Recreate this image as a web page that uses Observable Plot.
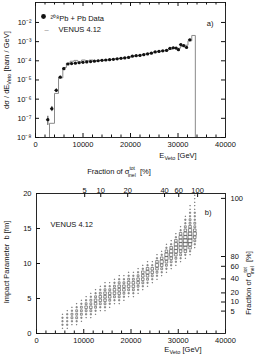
<!DOCTYPE html>
<html><head><meta charset="utf-8">
<script src="https://cdn.jsdelivr.net/npm/d3@7"></script>
<script src="https://cdn.jsdelivr.net/npm/@observablehq/plot@0.6"></script>
<style>
html,body{margin:0;padding:0;background:#fff;}
#c{width:256px;height:361px;overflow:hidden;}
svg{display:block;}
</style></head><body><div id="c"></div>
<script>
// ---------- panel a) : measured data ----------
const dataE = [2600, 3450, 4380, 5220, 5990, 6840, 7600, 8400, 9200, 10000, 10800, 11600, 12400, 13200, 14000, 14800, 15600, 16400, 17200, 18000, 18800, 19600, 20400, 21200, 22000, 22800, 23600, 24400, 25200, 26000, 26800, 27600, 28300, 29000, 29600, 30100, 30600, 31200, 31800, 32500];
const dataV = [8.5e-8, 3.2e-7, 2.9e-6, 1.4e-5, 3.9e-5, 6.8e-5, 7.2e-5, 7.5e-5, 7.9e-5, 8.3e-5, 8.7e-5, 9.1e-5, 9.6e-5, 1.01e-4, 1.06e-4, 1.1e-4, 1.15e-4, 1.2e-4, 1.27e-4, 1.34e-4, 1.42e-4, 1.5e-4, 1.75e-4, 1.85e-4, 1.9e-4, 2.1e-4, 2.3e-4, 2.5e-4, 2.9e-4, 3.1e-4, 3.3e-4, 3.5e-4, 4.4e-4, 4.8e-4, 4.6e-4, 3.8e-4, 7.0e-4, 6.2e-4, 5.0e-4, 1.25e-3];
const dataErr = [0.5, 0.3, 0.2, 0.12, 0.08, 0.06, 0.05, 0.05, 0.05, 0.05, 0.05, 0.05, 0.05, 0.05, 0.05, 0.05, 0.05, 0.05, 0.05, 0.05, 0.05, 0.05, 0.05, 0.05, 0.05, 0.05, 0.05, 0.05, 0.05, 0.05, 0.05, 0.05, 0.06, 0.06, 0.06, 0.07, 0.07, 0.08, 0.08, 0.08];
// ---------- panel a) : VENUS 4.12 histogram ----------
const histEdges = [2950, 4000, 4850, 5750, 6500, 7300, 8100, 8900, 9700, 10500, 11300, 12100, 12900, 13700, 14500, 15300, 16100, 16900, 17700, 18500, 19300, 20100, 20900, 21700, 22500, 23300, 24100, 24900, 25700, 26500, 27300, 28100, 28900, 29700, 30500, 31300, 32100, 32900, 33650];
const histV = [5.5e-8, 2.0e-6, 1.3e-5, 4.5e-5, 7.6e-5, 9.5e-5, 1.05e-4, 9.0e-5, 1.1e-4, 1.0e-4, 1.1e-4, 9.5e-5, 1.05e-4, 1.05e-4, 1.1e-4, 1.15e-4, 1.2e-4, 1.28e-4, 1.35e-4, 1.45e-4, 1.55e-4, 1.7e-4, 1.85e-4, 2.0e-4, 2.2e-4, 2.4e-4, 2.6e-4, 2.9e-4, 3.1e-4, 3.3e-4, 3.6e-4, 4.0e-4, 4.5e-4, 4.5e-4, 5.5e-4, 6.5e-4, 1.1e-3, 2.1e-3];
const xMajor = [0, 10000, 20000, 30000, 40000];
const xMinor = [2000, 4000, 6000, 8000, 12000, 14000, 16000, 18000, 22000, 24000, 26000, 28000, 32000, 34000, 36000, 38000];
const yDecades = [1e-8, 1e-7, 1e-6, 1e-5, 1e-4, 1e-3, 1e-2];

// ---------- panel b) : VENUS impact parameter vs E_Veto (box sizes) ----------
const colE = [5500, 6500, 7500, 8500, 9500, 10500, 11500, 12500, 13500, 14500, 15500, 16500, 17500, 18500, 19500, 20500, 21500, 22500, 23500, 24500, 25500, 26500, 27500, 28500, 29500, 30500, 31500, 32500, 33500];
const colB0 = [0.75, 0.75, 1.25, 1.25, 1.75, 2.25, 2.25, 2.75, 3.25, 3.25, 3.75, 4.25, 4.25, 4.75, 5.25, 5.25, 5.75, 6.25, 6.75, 7.25, 7.75, 8.25, 8.75, 9.25, 9.75, 10.25, 10.75, 11.25, 12.25];
const colCounts = ["12221", "122221", "123321", "1233321", "1233321", "1234321", "12343321", "12344321", "12344321", "123444321", "12344321", "12344321", "123444321", "12344321", "12344321", "12344321", "12344321", "12344421", "12345421", "1234421", "12345421", "12345421", "123455421", "123455421", "1234555421", "12345555421", "1245665543221", "124566554332211", "1234543322211111"];
const bStep = 0.5;
const bTicks = [0, 5, 10, 15, 20];
const fracTopLabels = ["5", "10", "20", "40", "60", "100"];
const fracTopE = [10200, 13600, 19300, 27100, 30100, 34100];
const fracRightLabels = ["100", "80", "60", "40", "20", "10", "5"];
const fracRightB = [19.3, 11.0, 9.6, 7.8, 5.8, 4.5, 3.2];

const FONT = "Liberation Sans, Arial, Helvetica, sans-serif";
const sup = {"-": "⁻", "0": "⁰", "1": "¹", "2": "²", "3": "³", "4": "⁴", "5": "⁵", "6": "⁶", "7": "⁷", "8": "⁸", "9": "⁹"};
const fmtPow = d => "10" + String(Math.round(Math.log10(d))).split("").map(c => sup[c]).join("");

const W = 256, mL = 35, mR = 31;
const innerW = W - mL - mR;

// ---------- top plot ----------
const H1 = 165, mT1 = 2, mB1 = 28, innerH1 = H1 - mT1 - mB1;
const pts = dataE.map((E, i) => ({E, v: dataV[i], lo: dataV[i] * (1 - dataErr[i]), hi: dataV[i] * (1 + dataErr[i])}));
const hist = [{E: histEdges[0], v: 1e-8}];
histV.forEach((v, i) => hist.push({E: histEdges[i], v}));
hist.push({E: histEdges[histEdges.length - 1], v: histV[histV.length - 1]});
hist.push({E: histEdges[histEdges.length - 1], v: 1e-8});

const p1 = Plot.plot({
  width: W, height: H1, marginLeft: mL, marginRight: mR, marginTop: mT1, marginBottom: mB1,
  style: {fontFamily: FONT, fontSize: "7.5px", background: "white", color: "#111"},
  x: {domain: [0, 40000]},
  y: {type: "log", domain: [1e-8, 1.1e-1]},
  marks: [
    Plot.line(hist, {x: "E", y: "v", curve: "step-after", stroke: "#8a8a8a", strokeWidth: 1, clip: true}),
    Plot.ruleX(pts, {x: "E", y1: "lo", y2: "hi", stroke: "#111", strokeWidth: 0.8}),
    Plot.ruleY(pts, {y: "v", x1: d => d.E - 300, x2: d => d.E + 300, stroke: "#111", strokeWidth: 0.8}),
    Plot.dot(pts, {x: "E", y: "v", r: 1.6, fill: "#111"}),
    Plot.frame({stroke: "#111", strokeWidth: 0.9}),
    Plot.axisX({ticks: xMajor, tickSize: 0, tickPadding: 4, tickFormat: d => String(d), label: null}),
    Plot.ruleX(xMajor, {x: d => d, insetTop: innerH1 - 4, stroke: "#111"}),
    Plot.ruleX(xMinor, {x: d => d, insetTop: innerH1 - 2.5, stroke: "#111"}),
    Plot.ruleX(xMajor, {x: d => d, insetBottom: innerH1 - 4, stroke: "#111"}),
    Plot.ruleX(xMinor, {x: d => d, insetBottom: innerH1 - 2.5, stroke: "#111"}),
    Plot.axisY({ticks: yDecades, tickSize: 0, tickPadding: 4, tickFormat: fmtPow, label: null}),
    Plot.ruleY(yDecades, {y: d => d, insetRight: innerW - 4, stroke: "#111"}),
    Plot.ruleY(yDecades, {y: d => d, insetLeft: innerW - 4, stroke: "#111"}),
    Plot.dot(["legend"], {frameAnchor: "top-left", dx: 8, dy: 14, r: 2.4, fill: "#111"}),
    Plot.text(["²⁰⁸Pb + Pb Data"], {frameAnchor: "top-left", dx: 15, dy: 13, textAnchor: "start", fontSize: 7.5}),
    Plot.text(["–"], {frameAnchor: "top-left", dx: 9, dy: 24, fill: "#8a8a8a", fontSize: 7.5}),
    Plot.text(["VENUS 4.12"], {frameAnchor: "top-left", dx: 23, dy: 24, textAnchor: "start", fontSize: 7.5}),
    Plot.text(["a)"], {frameAnchor: "top-right", dx: -12, dy: 18, fontSize: 7.5})
  ]
});

// ---------- bottom plot ----------
const H2 = 361 - H1, mT2 = 28, mB2 = 28, innerH2 = H2 - mT2 - mB2;
const cells = colE.flatMap((E, i) => [...colCounts[i]].map((c, j) => ({E, b: colB0[i] + j * bStep, n: +c})));

const p2 = Plot.plot({
  width: W, height: H2, marginLeft: mL + 1, marginRight: mR, marginTop: mT2, marginBottom: mB2,
  style: {fontFamily: FONT, fontSize: "7.5px", background: "white", color: "#111"},
  x: {domain: [0, 40000]},
  y: {domain: [0, 20]},
  r: {type: "linear", domain: [1, 6], range: [0.3, 2.2]},
  marks: [
    Plot.dot(cells, {x: "E", y: "b", r: "n", symbol: "square", stroke: "#444", strokeWidth: 0.6, fill: "none"}),
    Plot.frame({stroke: "#111", strokeWidth: 0.9}),
    Plot.axisX({ticks: xMajor, tickSize: 0, tickPadding: 4, tickFormat: d => String(d), label: null}),
    Plot.ruleX(xMajor, {x: d => d, insetTop: innerH2 - 4, stroke: "#111"}),
    Plot.ruleX(xMinor, {x: d => d, insetTop: innerH2 - 2.5, stroke: "#111"}),
    Plot.ruleX(fracTopE, {x: d => d, insetBottom: innerH2 - 4, stroke: "#111"}),
    Plot.text(fracTopLabels, {x: (d, i) => fracTopE[i], frameAnchor: "top", dy: -6}),
    Plot.axisY({ticks: bTicks, tickSize: 0, tickPadding: 5, label: null}),
    Plot.ruleY(bTicks, {y: d => d, insetRight: innerW - 1 - 4, stroke: "#111"}),
    Plot.ruleY(fracRightB, {y: d => d, insetLeft: innerW - 1 - 4, stroke: "#111"}),
    Plot.text(fracRightLabels, {y: (d, i) => fracRightB[i], frameAnchor: "right", dx: 5, textAnchor: "start"}),
    Plot.text(["VENUS 4.12"], {frameAnchor: "top-left", dx: 14, dy: 28, textAnchor: "start", fontSize: 7.5}),
    Plot.text(["b)"], {frameAnchor: "top-right", dx: -14, dy: 16, fontSize: 7.5})
  ]
});

const c = document.getElementById("c");
c.appendChild(p1);
c.appendChild(p2);

// ---------- text with sub/superscripts ----------
function addLabel(svg, x, y, rot, parts, anchor = "middle") {
  const t = d3.select(svg).append("text")
    .attr("transform", `translate(${x},${y})` + (rot ? ` rotate(${rot})` : ""))
    .attr("text-anchor", anchor)
    .attr("font-family", FONT).attr("font-size", 7.5).attr("fill", "#111");
  parts.forEach(([s, kind, dx]) => {
    const ts = t.append("tspan").text(s);
    if (kind === "sub") ts.attr("font-size", 5.5).attr("dy", 2);
    else if (kind === "sup") ts.attr("font-size", 5).attr("dy", -4.5);
    else if (kind === "subafter") ts.attr("font-size", 5).attr("dy", 7);
    else if (kind === "back") ts.attr("dy", -2);
    else if (kind === "back2") ts.attr("dy", -2.5);
    if (dx) ts.attr("dx", dx);
  });
}
addLabel(p1, 9, 70, -90, [["dσ / dE"], ["Veto", "sub"], [" [barn / GeV]", "back"]]);
addLabel(p1, 178, 158, 0, [["E"], ["Veto", "sub"], [" [GeV]", "back"]]);
addLabel(p2, 119, 9, 0, [["Fraction of σ"], ["tot", "sup"], ["inel", "subafter", -7], ["  [%]", "back2"]]);
addLabel(p2, 183, 187, 0, [["E"], ["Veto", "sub"], [" [GeV]", "back"]]);
addLabel(p2, 9, 97, -90, [["Impact Parameter  b [fm]"]]);
addLabel(p2, 251, 118, -90, [["Fraction of σ"], ["tot", "sup"], ["inel", "subafter", -7], ["  [%]", "back2"]]);
</script></body></html>
